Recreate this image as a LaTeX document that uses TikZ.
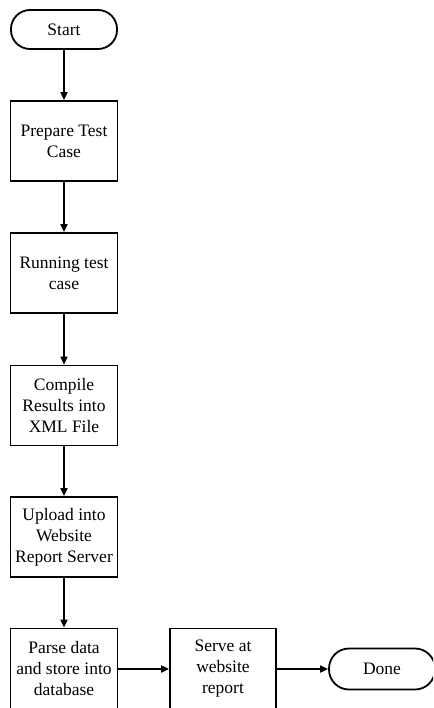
\documentclass[tikz,border=0pt]{standalone}
\usepackage{fontspec}
\setmainfont{Liberation Serif}
\usetikzlibrary{arrows.meta}
\begin{document}
\begin{tikzpicture}[x=1pt,y=-1pt, line width=1.8pt,
  every node/.style={font=\fontsize{17.5}{21}\selectfont, align=center, inner sep=0pt, draw=black},
  procbox/.style={rectangle, minimum width=107pt, minimum height=80pt},
  termbox/.style={rectangle, rounded corners=19pt, minimum width=106pt},
  flow/.style={draw=black, line width=1.8pt, -{Triangle[length=8pt,width=7pt]}}]
\clip (0,0) rectangle (433,708);
\fill[white] (0,0) rectangle (433,708);
\node[termbox, minimum height=39pt] (start) at (64,29.5) {Start};
\node[procbox] (prep) at (64,141) {Prepare Test\\Case};
\node[procbox] (run) at (64,273) {Running test\\case};
\node[procbox] (comp) at (64,405.5) {Compile\\Results into\\XML File};
\node[procbox] (upl) at (64,537) {Upload into\\Website\\Report Server};
\node[procbox, minimum height=81pt] (parse) at (64,669) {Parse data\\and store into\\database};
\node[procbox, minimum width=106pt, minimum height=81pt] (serve) at (223,669) {Serve at\\website\\report};
\node[termbox, minimum height=41pt, rounded corners=20pt] (done) at (382,669) {Done};
\draw[flow] (start) -- (prep);
\draw[flow] (prep) -- (run);
\draw[flow] (run) -- (comp);
\draw[flow] (comp) -- (upl);
\draw[flow] (upl) -- (parse);
\draw[flow] (parse) -- (serve);
\draw[flow] (serve) -- (done);
\end{tikzpicture}
\end{document}
